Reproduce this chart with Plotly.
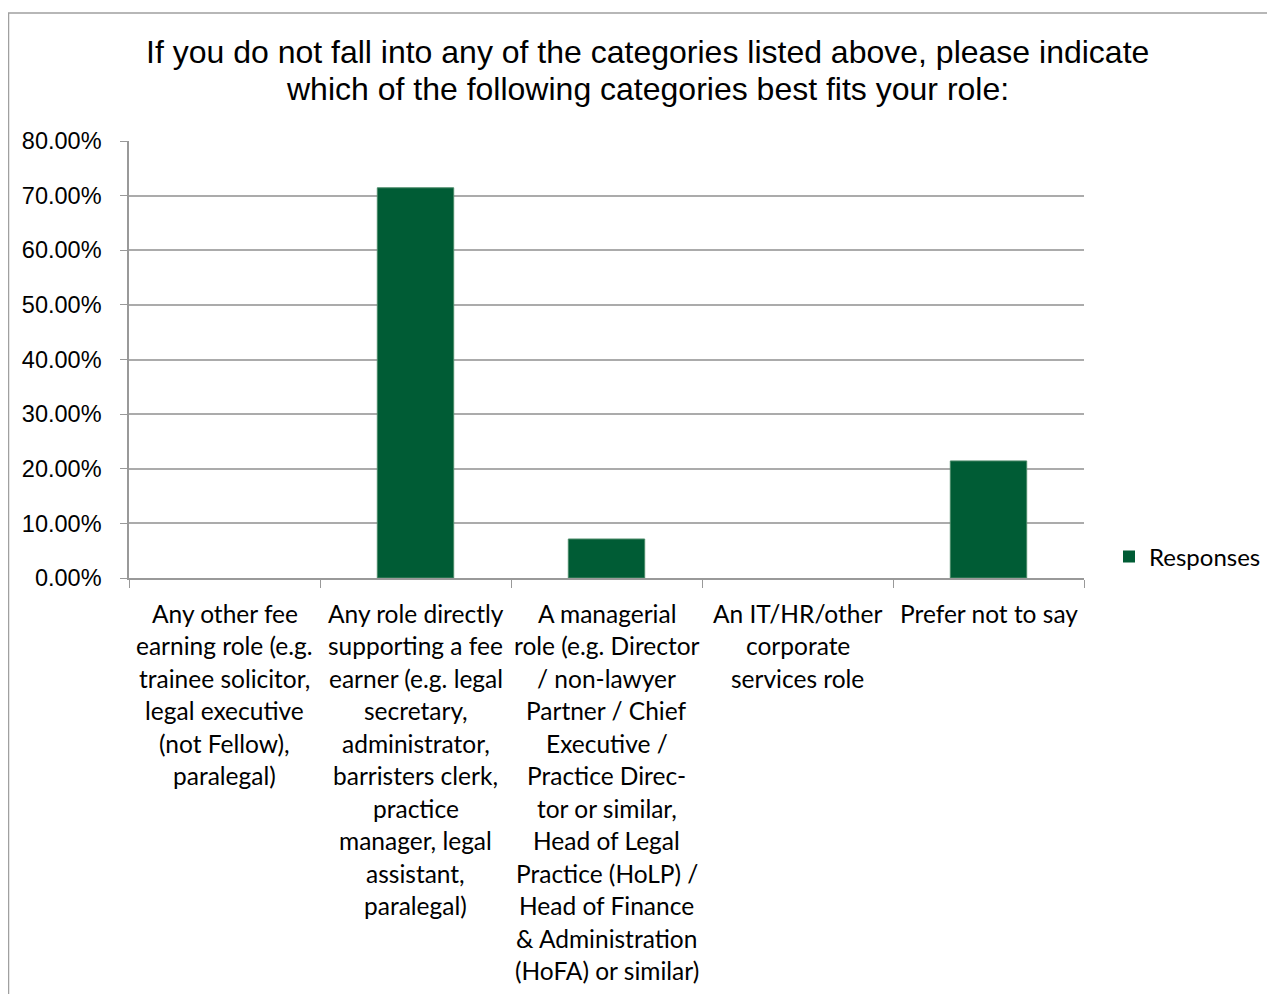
import plotly.graph_objects as go

label_lines = [
    ["Any other fee", "earning role (e.g.", "trainee solicitor,", "legal executive", "(not Fellow),", "paralegal)"],
    ["Any role directly", "supporting a fee", "earner (e.g. legal", "secretary,", "administrator,",
     "barristers clerk,", "practice", "manager, legal", "assistant,", "paralegal)"],
    ["A managerial", "role (e.g. Director", "/ non-lawyer", "Partner / Chief", "Executive /",
     "Practice Direc-", "tor or similar,", "Head of Legal", "Practice (HoLP) /", "Head of Finance",
     "& Administration", "(HoFA) or similar)"],
    ["An IT/HR/other", "corporate", "services role"],
    ["Prefer not to say"],
]
categories = [" ".join(l) for l in label_lines]
values = [0.0, 71.43, 7.14, 0.0, 21.43]
y_ticks = [0, 10, 20, 30, 40, 50, 60, 70, 80]
y_tick_text = ["%.2f%%" % v for v in y_ticks]
series_name = "Responses"
title_lines = ["If you do not fall into any of the categories listed above, please indicate",
               "which of the following categories best fits your role:"]

# page has an 8px body margin, so figure coordinates are screen coordinates minus 8
OFF = 8
W, H = 1275 - OFF, 994 - OFF
L, T = 129 - OFF, 141 - OFF
R, B = W - (1084 - OFF), H - (578 - OFF)
pw, ph = W - L - R, H - T - B


def px_x(sx):
    return (sx - OFF - L) / pw


def px_y(sy):
    return 1 - (sy - OFF - T) / ph


fig = go.Figure()
fig.add_trace(go.Bar(
    x=categories, y=values, name=series_name,
    marker=dict(color="#005C35",
                line=dict(color="#4a8a68", width=[1 if v > 0 else 0 for v in values])),
    showlegend=True,
))

annotations = []
for cat, lines in zip(categories, label_lines):
    for i, line in enumerate(lines):
        annotations.append(dict(
            x=cat, xref="x", y=0, yref="paper", yanchor="middle", xanchor="center",
            yshift=-(35 + 32.5 * i), text=line, showarrow=False,
            font=dict(family="Lato, Noto Sans, sans-serif", size=24.5, color="#000000"),
        ))
for i, line in enumerate(title_lines):
    annotations.append(dict(
        x=px_x(647.5), xref="paper", y=px_y(52 + 37 * i), yref="paper",
        xanchor="center", yanchor="middle", text=line, showarrow=False,
        font=dict(family="Liberation Sans, Arial, sans-serif", size=32, color="#000000"),
    ))

fig.update_layout(
    width=W, height=H,
    margin=dict(l=L, r=R, t=T, b=B, pad=0, autoexpand=False),
    paper_bgcolor="white", plot_bgcolor="white",
    bargap=0.6,
    xaxis=dict(showticklabels=False, ticks="outside", tickson="boundaries", ticklen=8,
               tickcolor="#999999", showline=True, linecolor="#999999", linewidth=1.5,
               showgrid=False, fixedrange=True),
    yaxis=dict(range=[0, 80], tickvals=y_ticks, ticktext=y_tick_text, ticks="outside",
               ticklen=7, tickcolor="#999999", showline=True, linecolor="#999999", linewidth=1.5,
               showgrid=True, gridcolor="#ababab", gridwidth=1.5, zeroline=False,
               tickfont=dict(family="Liberation Sans, Arial, sans-serif", size=23.5, color="#000000"),
               ticklabelstandoff=14),
    legend=dict(x=px_x(1109), xanchor="left", y=px_y(557), yanchor="middle",
                font=dict(family="Lato, Noto Sans, sans-serif", size=24, color="#000000"),
                itemwidth=30, bgcolor="rgba(0,0,0,0)"),
    annotations=annotations,
    shapes=[dict(type="rect", xref="paper", yref="paper",
                 x0=px_x(8.5), x1=px_x(1300),
                 y0=px_y(1020), y1=px_y(13),
                 line=dict(color="#a0a0a0", width=1.5), fillcolor="rgba(0,0,0,0)", layer="below")],
)

fig.write_html("out.html")
